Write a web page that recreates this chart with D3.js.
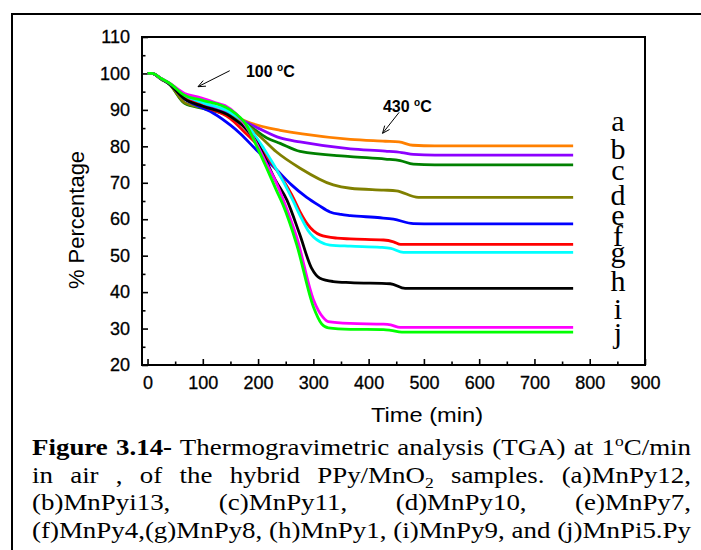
<!DOCTYPE html>
<html><head><meta charset="utf-8">
<script src="https://cdn.jsdelivr.net/npm/d3@7"></script>
<style>
html,body{margin:0;padding:0;background:#fff;}
svg{display:block;}
</style></head><body>
<svg id="chart" width="701" height="550"></svg>
<script>
// ---------- DATA ----------
const sampleLetters = ["a","b","c","d","e","f","g","h","i","j"];
const seriesA = [[0,100],[8,100],[25,98.5],[40,97.2],[67,93.5],[100,91.3],[150,88.9],[176,87.0],[220,85.0],[240,84.4],[280,83.4],[367,81.9],[430,81.4],[455,81.2],[480,80.3],[520,80.1],[770,80.1]];
const seriesB = [[0,100],[8,100],[25,98.5],[40,97.2],[67,93.6],[100,92.0],[125,90.0],[150,88.8],[173,87.0],[200,85.0],[240,82.3],[276,81.2],[367,79.3],[430,78.7],[460,78.3],[481,77.8],[520,77.6],[770,77.6]];
const seriesC = [[0,100],[8,100],[25,98.4],[40,97.0],[67,91.8],[100,90.4],[150,88.3],[180,86.0],[216,82.3],[240,80.8],[276,78.6],[367,77.2],[430,76.5],[457,76.1],[481,75.1],[520,74.9],[770,74.9]];
const seriesD = [[0,100],[8,100],[25,98.4],[40,97.0],[67,92.0],[100,90.6],[150,88.3],[180,85.8],[205,82.5],[233,78.5],[276,74.0],[336,69.4],[367,68.5],[427,68.0],[450,67.8],[490,66.0],[520,66.0],[770,66.0]];
const seriesE = [[0,100],[8,100],[25,98.5],[40,97.1],[67,93.0],[100,90.5],[119,89.1],[150,85.8],[167,83.6],[197,79.0],[234,73.5],[260,69.5],[288,66.0],[310,63.8],[330,62.0],[350,61.3],[367,61.0],[421,60.4],[445,60.0],[481,58.8],[520,58.7],[770,58.7]];
const seriesF = [[0,100],[8,100],[25,98.5],[40,97.2],[67,93.3],[100,91.0],[150,87.6],[173,84.3],[200,80.2],[245,70.8],[264,65.8],[276,62.0],[290,58.5],[312,55.7],[343,54.8],[367,54.6],[427,54.3],[445,53.8],[458,53.1],[770,53.1]];
const seriesG = [[0,100],[8,100],[25,98.5],[40,97.2],[67,94.0],[100,92.0],[150,89.3],[180,85.8],[210,79.5],[245,70.5],[264,64.8],[276,61.0],[290,57.0],[312,53.8],[330,52.9],[367,52.6],[421,52.3],[440,52.0],[463,50.9],[770,50.9]];
const seriesH = [[0,100],[8,100],[25,98.5],[40,97.1],[67,93.0],[100,91.0],[150,88.2],[200,80.5],[231,70.8],[252,65.3],[275,56.0],[297,46.5],[312,43.8],[336,42.9],[367,42.6],[439,42.3],[466,41.0],[770,41.0]];
const seriesI = [[0,100],[8,100],[25,98.6],[40,97.3],[67,94.5],[95,93.4],[125,91.9],[140,91.2],[161,88.8],[179,85.4],[197,80.8],[215,75.3],[233,70.0],[249,64.0],[270,55.0],[300,38.0],[318,33.0],[327,31.9],[367,31.4],[427,31.2],[440,31.0],[457,30.3],[770,30.3]];
const seriesJ = [[0,100],[8,100],[25,98.6],[40,97.3],[67,94.0],[100,92.6],[150,90.0],[179,85.8],[197,80.2],[215,74.2],[233,68.0],[245,64.0],[270,53.0],[300,36.0],[315,31.3],[327,30.2],[367,29.8],[427,29.7],[440,29.5],[460,29.0],[770,29.0]];
const allSeries = [seriesA,seriesB,seriesC,seriesD,seriesE,seriesF,seriesG,seriesH,seriesI,seriesJ];
// label anchors (data units)
const labelX = 851;
const labelY = [84.2,76.5,70.8,63.8,58.4,52.6,48.3,40.2,32.5,25.9];
const xTicks = [0,100,200,300,400,500,600,700,800,900];
const xMinor = [50,150,250,350,450,550,650,750,850];
const yTicks = [20,30,40,50,60,70,80,90,100,110];
const yMinor = [25,35,45,55,65,75,85,95,105];
const xDomain = [-10,900];
const yDomain = [20,110];
const annotations = [
  {num:"100 ", at:[178,99.0], from:[148.7,100.75], to:[91.3,96.36]},
  {num:"430 ", at:[425.8,89.4], from:[455.2,89.33], to:[425.2,83.57]}
];
const captionLines = [
  [{t:"Figure 3.14-",b:true},{t:" Thermogravimetric analysis (TGA) at 1"},{t:"o",sup:true},{t:"C/min"}],
  [{t:"in air , of the hybrid PPy/MnO"},{t:"2",sub:true},{t:" samples. (a)MnPy12,"}],
  [{t:"(b)MnPyi13, (c)MnPy11, (d)MnPy10, (e)MnPy7,"}],
  [{t:"(f)MnPy4,(g)MnPy8, (h)MnPy1, (i)MnPy9, and (j)MnPi5.Py"}]
];
// ---------- STYLE ----------
const colors = ["#FF8000","#8C00FF","#008000","#808000","#0000FF","#FF0000","#00FFFF","#000000","#FF00FF","#00FF00"];
const sans = "'Liberation Sans', Arial, sans-serif";
const serif = "'Liberation Serif', 'Times New Roman', serif";

const svg = d3.select("#chart");
// outer frame
svg.append("line").attr("x1",12).attr("y1",14).attr("x2",701).attr("y2",14).attr("stroke","#000").attr("stroke-width",2);
svg.append("line").attr("x1",12).attr("y1",13).attr("x2",12).attr("y2",550).attr("stroke","#000").attr("stroke-width",2);

const L=142,R=645,T=37,B=365;
const x = d3.scaleLinear().domain(xDomain).range([L,R]);
const y = d3.scaleLinear().domain(yDomain).range([B,T]);

// axes
const gx = svg.append("g").attr("transform",`translate(0,${B})`)
  .call(d3.axisBottom(x).tickValues(xTicks).tickSize(-6).tickSizeOuter(0).tickPadding(11));
const gxm = svg.append("g").attr("transform",`translate(0,${B})`)
  .call(d3.axisBottom(x).tickValues(xMinor).tickSize(-3.5).tickSizeOuter(0).tickFormat(""));
const gy = svg.append("g").attr("transform",`translate(${L},0)`)
  .call(d3.axisLeft(y).tickValues(yTicks).tickSize(-6).tickSizeOuter(0).tickPadding(12));
const gym = svg.append("g").attr("transform",`translate(${L},0)`)
  .call(d3.axisLeft(y).tickValues(yMinor).tickSize(-3.5).tickSizeOuter(0).tickFormat(""));
[gx,gxm,gy,gym].forEach(g=>{
  g.select(".domain").remove();
  g.selectAll("line").attr("stroke","#000").attr("stroke-width",1.6);
  g.selectAll("text").attr("font-family",sans).attr("font-size",18).attr("fill","#000")
    .attr("stroke","#000").attr("stroke-width",0.3);
});

// curves
const line = d3.line().x(d=>x(d[0])).y(d=>y(d[1])).curve(d3.curveMonotoneX);
svg.append("g").selectAll("path").data(allSeries).join("path")
  .attr("d",line).attr("fill","none")
  .attr("stroke",(d,i)=>colors[i]).attr("stroke-width",2.8)
  .attr("stroke-linejoin","round").attr("stroke-linecap","butt");

// frame
svg.append("rect").attr("x",L).attr("y",T).attr("width",R-L).attr("height",B-T)
  .attr("fill","none").attr("stroke","#000").attr("stroke-width",2);

// letters
svg.append("g").selectAll("text").data(sampleLetters).join("text")
  .attr("x",x(labelX)).attr("y",(d,i)=>y(labelY[i]))
  .attr("text-anchor","middle").attr("font-family",serif).attr("font-size",30)
  .text(d=>d);

// axis titles
svg.append("text").attr("x",371).attr("y",422)
  .attr("font-family",sans).attr("font-size",21)
  .attr("textLength",112).attr("lengthAdjust","spacingAndGlyphs").text("Time (min)");
svg.append("text").attr("transform","translate(84,220) rotate(-90)").attr("text-anchor","middle")
  .attr("font-family",sans).attr("font-size",22).text("% Percentage");

// annotations
annotations.forEach(a=>{
  const t = svg.append("text").attr("x",x(a.at[0])).attr("y",y(a.at[1]))
    .attr("font-family",sans).attr("font-size",16).attr("font-weight","bold");
  t.append("tspan").text(a.num);
  t.append("tspan").attr("font-size",10).attr("dy",-6).text("o");
  t.append("tspan").attr("dy",6).text("C");
  const x1=x(a.from[0]),y1=y(a.from[1]),x2=x(a.to[0]),y2=y(a.to[1]);
  svg.append("line").attr("x1",x1).attr("y1",y1).attr("x2",x2).attr("y2",y2).attr("stroke","#000").attr("stroke-width",1);
  const ang=Math.atan2(y1-y2,x1-x2), len=8, sp=0.4;
  [ang-sp,ang+sp].forEach(a2=>{
    svg.append("line").attr("x1",x2).attr("y1",y2)
      .attr("x2",x2+len*Math.cos(a2)).attr("y2",y2+len*Math.sin(a2))
      .attr("stroke","#000").attr("stroke-width",1);
  });
});

// caption (horizontally stretched Times, justified)
const capLeft=32, capRight=691, capBase=[455,482.7,510.3,538], capSize=23;
const capG = svg.append("g");
const capTexts = captionLines.map((segs,i)=>{
  const t = capG.append("text").attr("x",0).attr("y",capBase[i])
    .attr("font-family",serif).attr("font-size",capSize).attr("fill","#000")
    .style("white-space","pre");
  let shift=0;
  segs.forEach(s=>{
    const ts=t.append("tspan").text(s.t);
    if(s.b) ts.attr("font-weight","bold");
    let target = s.sup?-9:(s.sub?5:0);
    if(target!==shift){ ts.attr("dy",target-shift); shift=target; }
    if(s.sup||s.sub) ts.attr("font-size",15);
  });
  return t;
});
const natLast = capTexts[3].node().getComputedTextLength();
const sx = (capRight-capLeft)/natLast;
capG.attr("transform",`translate(${capLeft},0) scale(${sx},1)`);
const W = (capRight-capLeft)/sx;
capTexts.forEach((t,i)=>{
  const len = t.node().getComputedTextLength();
  const full = captionLines[i].map(s=>s.t).join("");
  const spaces = (full.match(/ /g)||[]).length;
  if(spaces>0) t.style("word-spacing",((W-len)/spaces)+"px");
});
</script>
</body></html>
